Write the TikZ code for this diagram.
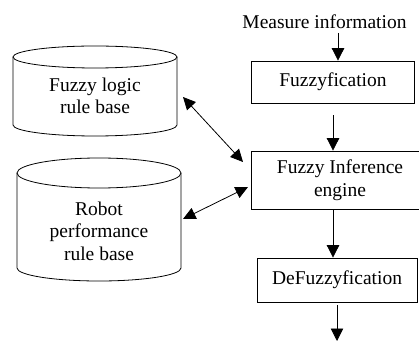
\documentclass[tikz,border=0pt]{standalone}
\usepackage{fontspec}
\setmainfont{Liberation Serif}
\usetikzlibrary{arrows.meta}
\begin{document}
\begin{tikzpicture}[x=1pt,y=1pt,
  every node/.style={font=\fontsize{19.5}{22.5}\selectfont, align=center, inner sep=0pt},
  procbox/.style={draw, line width=0.8pt, inner sep=0pt},
  cyl/.style={line width=0.8pt},
  arr/.style={line width=0.8pt, -{Triangle[length=12.5pt,width=12.5pt]}},
  biarr/.style={line width=0.8pt, {Triangle[length=12.5pt,width=12pt]}-{Triangle[length=12.5pt,width=12pt]}}]
\useasboundingbox (0,0) rectangle (419,342);
\clip (0,0) rectangle (419,342);
% cylinder 1
\draw[cyl] (95,285) ellipse [x radius=82pt, y radius=11pt];
\draw[cyl] (13,285) -- (13,217) arc[start angle=180, end angle=360, x radius=82pt, y radius=11pt] -- (177,285);
\node (flrb) at (95,246) {Fuzzy logic\\rule base};
\coordinate (flrbR) at (183,245);
% cylinder 2
\draw[cyl] (99,169) ellipse [x radius=82pt, y radius=15pt];
\draw[cyl] (17,169) -- (17,74) arc[start angle=180, end angle=360, x radius=82pt, y radius=13pt] -- (181,169);
\node (rprb) at (99,111) {Robot\\performance\\rule base};
\coordinate (rprbR) at (183,123);
% right column
\node (meas) at (324.5,320) {Measure information};
\coordinate (measB) at (338,309);
\node[procbox, minimum width=163pt, minimum height=42pt] (fuzz) at (333,260) {Fuzzyfication};
\node[procbox, minimum width=178pt, minimum height=58pt] (inf) at (340,162) {Fuzzy Inference\\engine};
\node[procbox, minimum width=160pt, minimum height=44pt] (defuzz) at (337,62) {DeFuzzyfication};
\coordinate (outB) at (337,1);
\coordinate (infL1) at (243,180);
\coordinate (infL2) at (248,155);
% connectors
\draw[arr] (measB) -- (measB |- fuzz.north);
\draw[arr, shorten <=12pt] (fuzz.south) -- (fuzz.south |- inf.north);
\draw[arr] (fuzz.south |- inf.south) -- (fuzz.south |- defuzz.north);
\draw[arr, shorten <=3pt] (defuzz.south) -- (outB);
\draw[biarr] (flrbR) -- (infL1);
\draw[biarr] (infL2) -- (rprbR);
\end{tikzpicture}
\end{document}
